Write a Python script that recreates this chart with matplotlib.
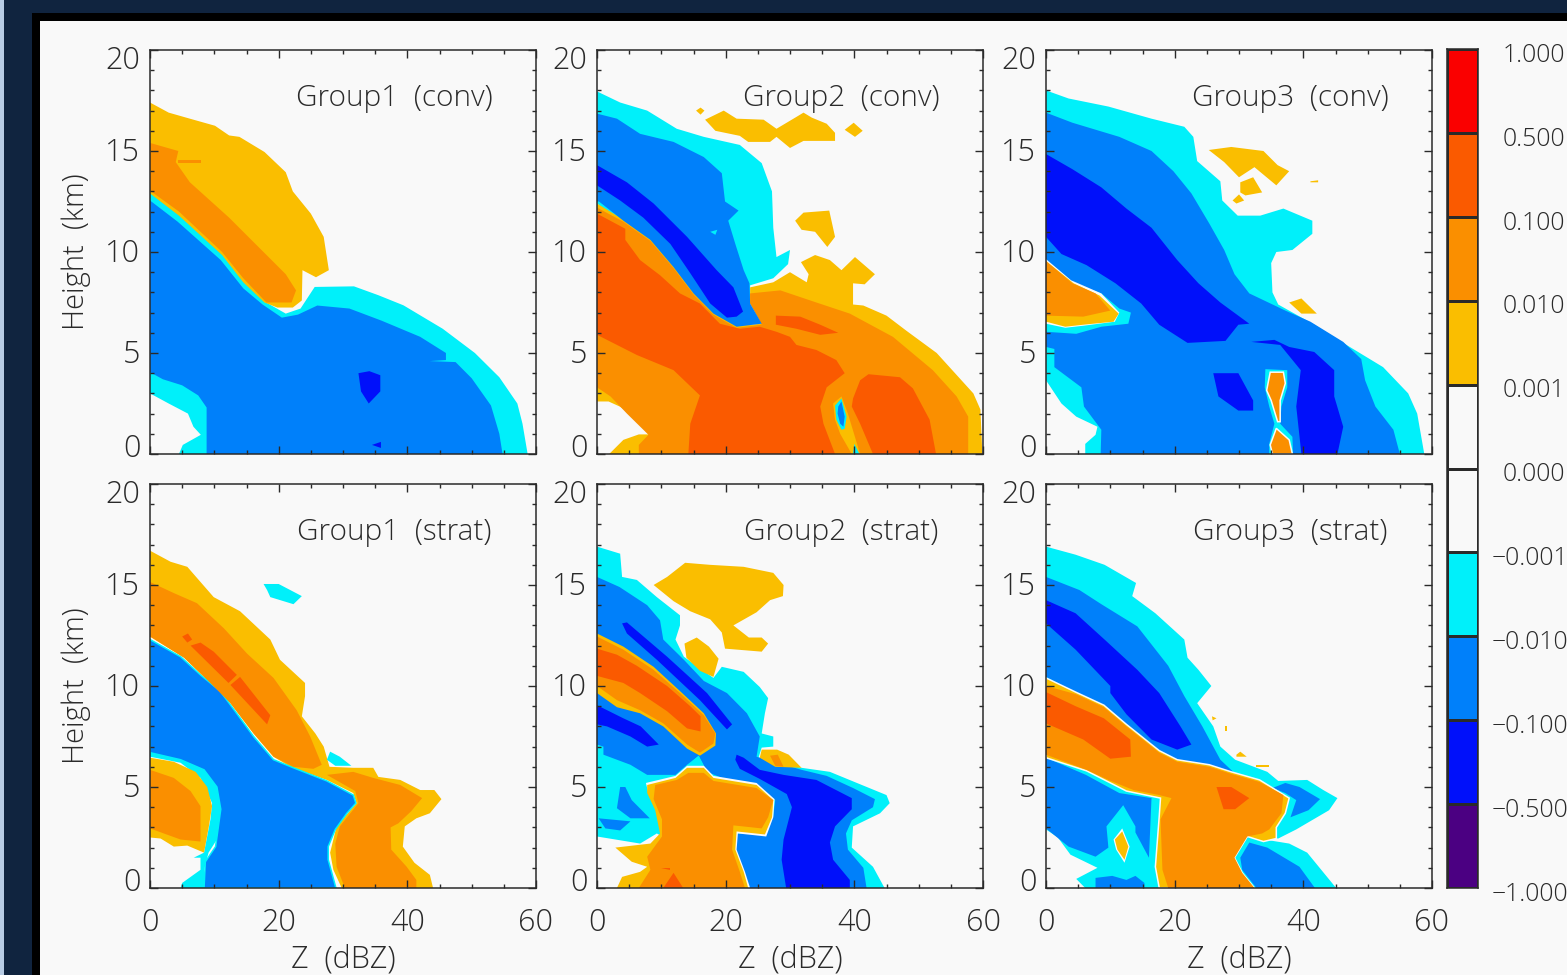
import matplotlib
matplotlib.use("Agg")
import matplotlib.pyplot as plt
from matplotlib.colors import ListedColormap, BoundaryNorm
from matplotlib.patches import Rectangle
from matplotlib.ticker import MultipleLocator
import numpy as np

W, H = 1567, 975
plt.rcParams['font.family'] = ['Open Sans', 'Liberation Sans', 'DejaVu Sans']
plt.rcParams['font.weight'] = 'light'

PURPLE = '#4b0082'
DARK = '#0010fa'
BLUE = '#0080fa'
CYAN = '#00f0fa'
PAPER = '#f9f9f9'
YELLOW = '#fabe00'
ORANGE = '#fa8f00'
RED_OR = '#fa5a00'
RED = '#fa0000'

# contour regions, (Z dBZ, height km), painted in order

# Group1 conv
G1C_CYAN = [(0,12.95),(4.5,11.85),(11.2,9.9),(14.5,8.55),(17.8,7.55),(21.1,6.95),(23.4,7.2),(25.6,8.27),(31.7,8.3),(35.5,7.86),(39.4,7.36),(45.5,6.2),(50.5,5),(54.3,3.8),(57.1,2.5),(57.9,1.5),(58.7,0),(4.5,0),(5.1,.45),(7.9,.95),(6.75,1.35),(5.9,2),(2.9,2.5),(0,3)]
G1C_BLUE = [(0,12.55),(4.3,11.5),(11,9.6),(14.5,8.2),(17.5,7.4),(20.5,6.75),(23,6.9),(26,7.35),(31,7.2),(36,6.6),(42,5.8),(46,5),(46,4.65),(43.5,4.6),(47.5,4.55),(50,3.75),(53,2.4),(54.3,1),(54.8,0),(8.8,0),(8.8,2.3),(7.5,2.9),(5,3.4),(2,3.7),(0,4.05)]
G1C_DARK = [(32.4,4),(34.1,4.1),(35.8,3.9),(35.8,3.1),(34,2.5),(32.8,3.1)]
G1C_DARK2 = [(34.5,.45),(35.9,.6),(35.9,.3)]
G1C_YELLOW = [(0,17.4),(2.9,16.9),(6.2,16.6),(10.1,16.25),(12.3,15.77),(13.9,15.7),(17.8,14.95),(21.1,13.95),(22.2,13),(25,11.9),(27,10.75),(27.8,9.1),(25.8,8.75),(23.7,9.1),(23.6,7.6),(22.2,7.25),(19.8,7.25),(17.8,7.5),(14.5,8.5),(11.2,9.85),(4.5,11.8),(0,12.9)]
G1C_ORANGE = [(0,15.4),(4.4,15),(4,14.45),(6.2,13.45),(12.3,11.7),(21.1,8.9),(22.7,8.1),(22,7.5),(18.1,7.5),(14.5,8.7),(11.2,10),(4.5,12),(.6,12.9),(0,13)]
G1C_ORANGE2 = [(4.3,14.55),(7.9,14.55),(7.9,14.42),(4.3,14.42)]

# Group2 conv
G2C_CYAN = [(0,17.95),(3.6,17.4),(7.8,17),(12.4,16.1),(16.6,15.7),(22.2,15.3),(25.6,14.4),(27.2,13),(27.4,11.2),(27.9,9.75),(30,10.1),(29.7,9.4),(27.4,8.7),(23.8,8.35),(23.8,6.5),(0,12.4)]
G2C_YELLOW = [(23.8,8.25),(27.4,8.5),(30,9),(32.6,8.5),(32.9,8.9),(31.7,9.5),(33.9,9.85),(36.2,9.6),(38,9.1),(40.1,9.75),(43.2,8.9),(41.6,8.4),(39.8,8.45),(39.8,7.4),(41.4,7.35),(45,6.85),(48.1,6.1),(52.8,5),(58.5,3),(59.6,2.2),(59.9,0),(1.9,0),(4.1,.7),(6.5,.97),(8,.97),(6.7,1.68),(3.6,2.34),(1.8,2.6),(0,2.6),(0,12.4),(4.1,11.6),(8.3,10.65),(11.9,9.3),(15,8),(18.1,7),(21.7,6.35),(25.6,6.45),(23.8,7.45)]
G2C_YEL_A = [(15.4,17),(16.1,17.15),(16.7,17),(16.1,16.8)]
G2C_YEL_B = [(16.8,16.55),(19.7,17),(21.7,16.6),(25.9,16.55),(27.9,16.1),(30.8,16.65),(32.1,16.9),(33.4,16.65),(35.7,16.35),(37,15.9),(37,15.5),(32.1,15.5),(30,15.15),(27.9,15.7),(26.9,15.45),(23.5,15.45),(22.2,15.75),(18.4,16)]
G2C_YEL_C = [(38.5,16.05),(39.9,16.4),(41.3,16),(40.1,15.7)]
G2C_YEL_D = [(30.8,11.55),(32.1,11.95),(36.1,12.05),(37,10.75),(35.8,10.25),(33.9,11),(31.8,11.1)]
G2C_ORANGE = [(23.8,7.95),(28.5,8.1),(34.1,7.5),(39.3,6.95),(46,5.8),(52.2,4.15),(55.9,2.85),(57.7,1.85),(57.7,0),(6.5,0),(6.5,.45),(8,.95),(4.65,2),(2.1,2.85),(0,3.3),(0,12.2),(4.1,11.5),(8.3,10.55),(11.9,9.2),(15,7.9),(18.1,6.9),(21.7,6.25),(25.6,6.4),(23.8,7.45)]
G2C_RED = [(0,11.9),(4.4,11.15),(4.4,10.6),(6.7,9.6),(9.8,8.85),(12.9,7.95),(16,7.45),(19.1,6.45),(22.2,6.2),(25.3,6.3),(27.9,6.05),(30,5.8),(31,5.4),(34.1,5.15),(37.2,4.65),(38.5,4),(35.7,3.3),(34.7,2.35),(35.2,1.5),(37,0),(14.2,0),(14.5,1.5),(16,2.9),(11.9,4.15),(6.2,4.9),(0,5.9)]
G2C_RED2 = [(39.8,2.75),(40.9,3.65),(42.2,3.95),(47.1,3.8),(49.1,3.25),(51.7,1.7),(52.7,0),(42.9,0),(40.9,1.5),(39.6,2.35)]
G2C_RED3 = [(27.8,6.85),(31.6,6.8),(34.7,6.4),(37.5,6),(34.7,5.9),(31,6.2),(27.8,6.4)]
G2C_YEL_E = [(36.7,2.5),(38,2.85),(39,2),(40.9,0),(39.6,0),(37.8,1),(37,1.7)]
G2C_CY_SPOT = [(37,2.4),(38,2.75),(38.8,1.85),(38.5,1.25),(38,1.2),(37.2,1.7)]
G2C_BL_SPOT = [(37.5,2.35),(38,2.6),(38.5,1.85),(38.3,1.35),(37.8,1.5),(37.4,2)]
G2C_CY_FOOT = [(39.8,0),(40,.5),(40.8,0)]
G2C_BLUE = [(0,16.85),(3.1,16.6),(6.7,15.85),(11.9,15.45),(16.6,14.7),(19.4,13.9),(19.9,12.5),(22,12.05),(20.4,11.55),(21.5,10.4),(22.8,9.1),(23.7,8.45),(23.8,7.45),(25.6,6.45),(21.7,6.3),(18.1,6.95),(15,7.95),(11.9,9.25),(8.3,10.6),(4.1,11.55),(.3,12.5),(0,12.5)]
G2C_CY_NICK = [(17.6,11),(18.7,11.1),(18.4,10.85)]
G2C_DARK = [(0,14.3),(4.65,13.45),(8.8,12.4),(14,10.75),(18.6,9.1),(21.2,8.25),(22.7,7.05),(21.7,6.8),(20.2,6.75),(17.6,7.45),(14.5,8.95),(11.4,10.4),(7.2,11.7),(3.6,12.55),(0,13.3)]

# Group3 conv
G3C_CYAN = [(0,18),(3.5,17.6),(9.7,17.2),(16.4,16.6),(21.5,16.2),(22.9,15.7),(23.5,14.5),(27.1,13.5),(27.4,12.55),(29.8,11.8),(33.3,11.8),(36.9,12.15),(41.4,11.55),(41.4,10.9),(38.3,10.1),(35.8,10),(35,9.45),(35.2,8),(36.1,7.4),(41.7,6.4),(46.7,5.4),(52.4,4.3),(56.3,3),(57.7,2),(58.8,0),(6.1,0),(6.1,.5),(7.7,.95),(8,1.35),(4.7,1.85),(2.4,2.5),(0,3.65)]
G3C_BLUE = [(0,16.9),(4.1,16.4),(11.4,15.7),(16.4,15),(19.8,14),(22.6,12.9),(25.4,11.4),(27.7,10.1),(29.3,8.9),(31.6,7.95),(37.2,7.1),(41.1,6.55),(46.2,5.55),(49,4.7),(49.6,3.65),(51.2,2.35),(54,1.2),(55,0),(8.5,0),(8.6,1.2),(5.9,2.35),(5.5,3.3),(1.3,4.3),(1.3,5.2),(0,5.3)]
G3C_DARK = [(0,14.85),(4.1,14.1),(8.6,13.2),(12.5,12.15),(16.4,11.2),(20.4,9.6),(23.7,8.45),(27.1,7.5),(31.6,6.45),(29.9,6.4),(27.9,5.6),(22,5.5),(17.6,6.4),(14.8,7.45),(10.8,8.45),(6.3,9.35),(2.4,9.9),(0,10.75)]
G3C_DARK2 = [(31.9,5.55),(35.5,5.65),(37.8,5.3),(41.7,5.05),(44.8,4.15),(44.8,2.85),(46.2,1.35),(45.3,0),(39.7,0),(38.9,2.35),(39.6,4.15),(36.4,5.4)]
G3C_DARK3 = [(26,4),(29.9,4),(32.2,2.65),(32.2,2.15),(29.9,2.15),(26.8,2.85)]
G3C_CY_B = [(0,9.6),(3.9,8.5),(8.6,7.95),(11.4,7.2),(13.2,7),(12.8,6.45),(8.6,6.3),(4.7,5.95),(0,6.05)]
G3C_WH_B = [(0,9.65),(3.9,8.6),(8.6,7.95),(11.4,7),(10.7,6.55),(5.8,6.35),(3,6.25),(0,6.45)]
G3C_YEL_B = [(0,9.55),(4.3,8.45),(8.3,7.85),(11.3,6.95),(10.5,6.55),(5.8,6.4),(3,6.3),(0,6.55)]
G3C_OR_B = [(0,9.55),(4.1,8.45),(7.7,7.95),(10,7.1),(5.8,6.8),(0,6.85)]
G3C_CY_S = [(34.1,4.2),(37.5,4.15),(37.5,3.3),(36.6,2.35),(36.4,1.5),(38.3,.85),(38.4,0),(34.7,0),(34.7,.5),(35.5,1.5),(34.7,2.35),(34,3.3)]
G3C_OR_S = [(34.85,4.05),(36.9,4.05),(37.2,3.5),(36.4,2.65),(36.4,1.6),(36,1.6),(35,2.65),(34.3,3.15)]
G3C_OR_S2 = [(35.8,1.27),(37.8,.7),(38.3,0),(35.2,0),(34.85,.45)]
G3C_YEL_A = [(25.3,15.05),(28.8,15.2),(33.8,15),(36,14.3),(37.8,14),(35.8,13.3),(32.4,14.2),(30,13.7),(27.7,14.45)]
G3C_YEL_C = [(30.2,13.45),(32.2,13.7),(33.6,12.95),(31,12.8),(30.2,12.95)]
G3C_YEL_D = [(29,12.55),(30,12.85),(30.8,12.55),(29.6,12.4)]
G3C_YEL_E = [(41.1,13.5),(42.3,13.55),(42.3,13.45),(41.1,13.45)]
G3C_YEL_F = [(37.8,7.5),(39.7,7.7),(42.1,6.95),(39.7,6.95)]

# Group1 strat
G1S_YELLOW = [(0,16.7),(3.2,16.15),(5.8,15.9),(7.3,15.35),(9.9,14.4),(14,13.7),(18.7,12.3),(20.2,11.3),(24.1,10.15),(24.1,9.5),(23.6,8.5),(25.7,7.65),(27,7),(27.9,6),(31.6,5.95),(34.7,5.95),(35.5,5.5),(38.9,5.35),(42,4.85),(44.2,4.85),(45.3,4.4),(43.5,3.7),(41.4,3.45),(39.6,3.05),(39.3,2.05),(41.1,1.25),(43.5,.65),(44,0),(29.8,0),(28.5,.9),(28,1.75),(29,3.05),(32.1,4.2),(31.6,4.7),(27.5,5.35),(21.8,6),(19.2,6.5),(16.1,7.65),(12.5,9.15),(8.9,10.3),(5.3,11.4),(0,12.45)]
G1S_CYAN = [(0,7),(4.75,6.7),(8.4,6.2),(10.2,5.45),(11.5,4.1),(10.4,2.4),(9.1,1.75),(8.4,.9),(8.4,0),(4.75,0),(5,.25),(7.85,.9),(7.85,1.5),(6.8,1.5),(8.4,1.75),(9.4,3.4),(9.65,4.2),(7.85,5.45),(4.75,6.2),(0,6.5)]
G1S_BLUE = [(0,12.3),(4.75,11.45),(7.85,10.55),(10.9,9.75),(13,8.85),(16.1,7.5),(19.2,6.35),(22.3,5.95),(27.5,5.3),(31.6,4.6),(32,4.2),(30.6,3.7),(28.8,2.9),(27.7,2.05),(27.7,1.4),(28.9,0),(8.4,0),(8.6,1.3),(10.2,2.05),(11,3.9),(10.4,5),(8.4,5.85),(4.75,6.35),(0,6.7)]
G1S_YEL_B = [(0,6.45),(3.7,6.25),(7.1,5.75),(8.9,5),(9.65,4.05),(9.15,3.05),(8.4,1.75),(5.8,2.1),(3.7,2.05),(1.65,2.45),(0,2.5)]
G1S_OR_B = [(0,5.85),(3.7,5.45),(6.3,4.8),(7.85,4.05),(7.85,2.3),(4.75,2.4),(2.15,2.7),(0,2.95)]
G1S_ORANGE = [(0,15.15),(3.7,14.6),(7.3,14.1),(11.5,12.85),(15.1,11.6),(19.2,10.4),(22.8,8.8),(24.9,7.5),(26.7,6.1),(25.4,5.9),(22.3,6),(19.2,6.5),(16.1,7.65),(12.5,9.15),(8.9,10.3),(5.3,11.4),(0,12.45)]
G1S_ORANGE2 = [(27.5,5.6),(31.6,5.75),(34.7,5.45),(38.9,5.1),(42.3,4.45),(40.6,3.8),(38.6,3.2),(37.4,3),(37.5,1.9),(39.9,1.05),(41.4,.4),(41.4,0),(30.3,0),(29,1.05),(28.8,2.2),(29.5,3.05),(32.4,4.2),(31.9,4.8)]
G1S_RED_A = [(5,12.45),(5.9,12.6),(6.55,12.3),(5.8,12.15)]
G1S_RED_B = [(6.3,12),(7.85,12.15),(9.9,11.7),(13.5,10.55),(12.2,10.15)]
G1S_RED_C = [(12.5,10.05),(14,10.45),(18.7,8.55),(18.2,8.1)]
G1S_CY_A = [(17.65,15.05),(20,15.05),(23.6,14.45),(22.3,14.05),(18.7,14.4),(18.2,14.75)]
G1S_CY_B = [(27.5,6.35),(28,6.75),(29.5,6.5),(31.3,6.05),(28.8,6.05)]

# Group2 strat
G2S_CYAN = [(0,16.9),(3.6,16.55),(3.9,15.4),(6.2,15.25),(9.3,14.4),(12.9,13.5),(12.9,13),(12.2,12.3),(13.5,11.45),(18.1,10.4),(19.4,10.95),(22.8,10.7),(25.3,9.95),(26.6,9.4),(26.1,8.65),(25.6,7.65),(27.4,7.5),(27.4,7),(25.6,6.95),(25.1,6.45),(31.8,5.95),(36.2,5.75),(40.4,5.2),(45,4.6),(45.5,4.2),(44,3.7),(39.8,3.05),(39.6,2),(42.9,1.05),(44.7,0),(23.8,0),(16,1.5),(9.3,2.7),(6.7,2.2),(0,2.55)]
G2S_BLUE = [(0,15.4),(3.5,14.9),(7.8,14),(9.8,13.25),(10.3,12.3),(13.5,11.3),(16.6,10.25),(20.2,9.65),(23.3,8.65),(25.3,7.5),(24.8,6.5),(31.8,5.85),(35.7,5.55),(39.8,4.95),(43.2,4.4),(42.9,4),(39.6,3.35),(38.7,2.7),(39,1.9),(41.4,1),(41.9,0),(23.5,0),(22.2,1.25),(21.5,2.05),(21.7,2.7),(26.3,2.65),(27.4,3.55),(27.7,4.35),(25.3,5),(20.2,5.35),(17.1,5.75),(15.8,6.55),(14,6.1),(12.2,5.6),(7.8,5.6),(5.2,6.1),(1,6.6),(1,7),(0,7.1)]
G2S_CY_NICK = [(14,6),(15.8,6.55),(16.8,5.95)]
G2S_DARK_A = [(3.9,13.1),(4.65,13.15),(10.9,11.45),(17.1,9.65),(21,8.1),(20.2,7.85),(16,9.3),(9.3,11.3),(4.65,12.6)]
G2S_DARK_B = [(0,9.05),(4.1,8.4),(6.8,8),(9.6,7.1),(7.8,7),(5.2,7.5),(1.55,8),(0,8.1)]
G2S_DARK_C = [(21.7,6.6),(22.8,6.45),(25.3,5.85),(29,5.6),(34.1,5.35),(39.6,4.45),(39.6,3.9),(37,3.05),(36.2,2.25),(36.7,1.4),(39.3,.4),(39.3,0),(29.4,0),(28.7,1.4),(29,2.4),(30.3,4),(29.5,4.65),(25.3,5.4),(22.2,5.9),(21.5,6.35)]
G2S_YELLOW = [(0,12.6),(4.1,11.95),(8.8,10.95),(12.9,9.75),(16.6,8.65),(18.5,7.65),(18.4,7.05),(16,6.55),(14,6.9),(10.3,8),(6.7,8.65),(3.1,8.95),(0,9.65)]
G2S_ORANGE = [(0,12.45),(4.1,11.8),(8.8,10.8),(12.9,9.65),(16.6,8.55),(18.4,7.65),(18.1,7.15),(16,6.7),(14,7.1),(10.3,8.15),(6.7,8.8),(3.1,9.3),(0,10)]
G2S_RED = [(0,11.85),(3.1,11.55),(6.2,11),(10.9,10),(14.5,9),(16.1,8.5),(16.1,7.75),(14,7.9),(10.9,8.75),(6.7,9.65),(4.1,10.15),(0,10.5)]
G2S_YEL_TOP = [(8.8,15),(10.9,15.4),(13.7,16.1),(17.5,16),(22.8,15.9),(27.4,15.6),(29,15),(28.9,14.45),(26.9,14.25),(24.8,13.65),(21.2,13),(23.6,12.4),(25.6,12.4),(26.6,12.1),(25.6,11.7),(19.9,11.85),(19.4,12.65),(17.6,13.3),(14.5,13.7),(11.9,14.2)]
G2S_YEL_MID = [(13.6,12.1),(15.5,12.4),(17.4,11.95),(18.9,11.35),(18.1,10.45),(16,10.75),(13.9,11.4)]
G2S_YEL_R = [(25.6,6.85),(28,6.85),(29.8,6.6),(31.8,5.95),(27.7,6),(25.3,6.45)]
G2S_OR_R = [(26.9,6.55),(28.1,6.6),(29,6),(27.7,6.05)]
G2S_WH_LOW = [(7.6,5.2),(12.2,5.55),(14,6.05),(16.6,6.05),(18.1,5.55),(24.8,5.2),(27.6,4.4),(27.4,3.5),(26.3,2.55),(21.9,2.7),(21.7,1.9),(23,.8),(23.8,0),(3,0),(3.8,.55),(6.7,.7),(7.6,1.05),(5.4,1.2),(2.7,2),(8.3,2.1),(10,2.7),(9.2,3.85),(8,4.7)]
G2S_YEL_LOW = [(7.8,5.1),(12.2,5.45),(14,5.95),(16.6,5.95),(18.1,5.45),(24.8,5.1),(27.4,4.35),(27.2,3.5),(26.1,2.65),(21.7,2.8),(21.5,1.9),(22.8,.8),(23.5,0),(3.1,0),(3.9,.55),(6.7,.8),(7.8,1.05),(5.4,1.3),(2.85,2),(8.3,2.2),(9.8,2.7),(9.05,3.85),(7.8,4.7)]
G2S_OR_LOW = [(9.05,5.1),(12.4,5.35),(14.2,5.7),(16.6,5.7),(18.1,5.3),(24.8,4.95),(27.4,4.35),(26.6,3.5),(25.6,2.95),(21.2,3.1),(21,1.9),(22.2,.8),(23,0),(6.5,0),(8.3,.9),(7.8,1.55),(10.1,2.55),(10.1,3.4),(8.8,4.4)]
G2S_RED_LOW = [(10.3,0),(11.9,.75),(13.4,0)]
G2S_RED_DOT = [(10,1),(11.4,1),(11.4,.9)]
G2S_BL_A = [(3.6,5),(4.4,5),(5.4,4.35),(8.2,3.45),(5.2,3.45),(3.1,3.95)]
G2S_BL_B = [(.25,3.45),(5.2,3.3),(3.6,2.85),(1.3,2.95)]

# Group3 strat
G3S_CYAN = [(0,16.9),(4.6,16.5),(9.1,16),(14,15.1),(13.4,14.45),(17,13.6),(21.5,12.3),(22,11.4),(23.7,10.8),(25.7,10),(23.5,9.15),(26,8),(27.1,7),(29.4,6.35),(34.4,5.75),(36.1,5.3),(40.6,5.35),(43.1,4.85),(45.3,4.45),(44,3.85),(38.9,2.9),(36.1,2.45),(31,2.55),(37.8,2.2),(40.6,1.75),(45.1,0),(6.1,0),(4.7,.45),(8,1),(3.8,1.65),(1.85,2.5),(0,2.9)]
G3S_BLUE = [(0,15.4),(5.2,14.75),(8.6,14.05),(14.2,12.95),(19,11),(21.5,9.5),(24.3,8),(27.1,6.35),(29.6,5.6),(20.9,6.2),(17.6,6.7),(12.5,8),(8.6,9),(0,10.45)]
G3S_DARK = [(0,14.25),(4.6,13.6),(9.1,12.3),(14.2,10.8),(17.6,9.65),(20.9,8),(22.6,7.1),(20.4,6.85),(16.4,7.35),(12.5,8.6),(10,9.65),(10,10),(4.6,11.8),(0,13.1)]
G3S_YELLOW = [(0,10.4),(4.6,9.7),(9,9.05),(12.5,8.1),(17.6,6.8),(20.4,6.35),(25.4,6.1),(28.8,5.75),(33.2,5.35),(37.8,4.45),(37.2,3.7),(35.8,3),(35.8,2.45),(33.8,2.3),(31.3,2.55),(29.3,1.5),(30.5,.75),(32.4,0),(17.6,0),(17,1.05),(17.6,3.55),(17.8,4.45),(12.5,4.8),(6.3,5.8),(0,6.45)]
G3S_ORANGE = [(0,10),(4.6,9.6),(9,8.95),(12.5,8),(17.6,6.7),(20.4,6.25),(25.4,6),(28.8,5.65),(33.2,5.25),(36.9,4.6),(36.6,3.7),(34.7,2.9),(33.6,2.7),(31.3,2.55),(29.3,1.5),(30.5,.75),(32.4,0),(19,0),(18.1,.9),(17.8,3.4),(19.5,4.45),(17.6,4.6),(13.6,4.85),(9.7,5.35),(6.3,5.85),(0,6.6)]
G3S_RED = [(0,9.7),(4.6,9),(9,8.4),(13.1,7.35),(13.2,6.5),(10,6.4),(5.8,7.35),(0,8.15)]
G3S_RED2 = [(26.5,5),(28.8,5),(31.6,4.45),(29.4,3.9),(27.6,3.9)]
G3S_BL_LOW = [(0,6.45),(6.2,5.6),(11.4,4.7),(16.4,4.45),(16,1.5),(13.9,2.75),(13.9,3.05),(12,4.1),(9.4,3.05),(9.7,2),(7.7,1.55),(3.5,2.05),(0,2.95)]
G3S_WH_SPOT = [(10.5,2.4),(11.85,2.95),(13,2.05),(12.2,1.25),(10.9,1.9)]
G3S_YEL_SPOT = [(10.7,2.4),(11.85,2.8),(12.8,2.05),(12.2,1.4),(11.1,1.9)]
G3S_BL_FOOT = [(7.7,0),(7.7,.5),(10.3,.6),(12.5,.4),(13.9,.6),(15.3,.25),(15.3,0)]
G3S_BL_RLOW = [(30.2,1.5),(31.6,2.25),(34.4,2),(39.4,1.05),(41.8,0),(32.7,0),(30.5,.9)]
G3S_BL_RUP = [(35.2,4.95),(37.2,5.2),(39.4,5),(42.6,4.4),(40.8,3.85),(38,3.5),(38.9,4.35),(37.2,4.7)]
G3S_SPECK1 = [(25.8,8.5),(26.5,8.4),(25.9,8.3)]
G3S_SPECK2 = [(27.8,8),(28.1,8),(28.1,7.75),(27.8,7.75)]
G3S_SPECK3 = [(29.6,6.6),(30.2,6.75),(31.2,6.5),(29.6,6.5)]
G3S_SPECK4 = [(32.7,6.07),(34.7,6.07),(34.7,5.99),(32.7,5.99)]

# a third item is the colour of the thin fringe round the region
PANELS = [
    ('Group1  (conv)', [(CYAN, G1C_CYAN), (BLUE, G1C_BLUE), (DARK, G1C_DARK), (DARK, G1C_DARK2),
                        (YELLOW, G1C_YELLOW), (ORANGE, G1C_ORANGE), (ORANGE, G1C_ORANGE2)]),
    ('Group2  (conv)', [(CYAN, G2C_CYAN), (YELLOW, G2C_YELLOW), (YELLOW, G2C_YEL_A), (YELLOW, G2C_YEL_B),
                        (YELLOW, G2C_YEL_C), (YELLOW, G2C_YEL_D), (ORANGE, G2C_ORANGE), (RED_OR, G2C_RED),
                        (RED_OR, G2C_RED2), (RED_OR, G2C_RED3), (YELLOW, G2C_YEL_E), (CYAN, G2C_CY_SPOT),
                        (BLUE, G2C_BL_SPOT), (CYAN, G2C_CY_FOOT), (BLUE, G2C_BLUE), (CYAN, G2C_CY_NICK),
                        (DARK, G2C_DARK)]),
    ('Group3  (conv)', [(CYAN, G3C_CYAN), (BLUE, G3C_BLUE), (DARK, G3C_DARK), (DARK, G3C_DARK2),
                        (DARK, G3C_DARK3), (CYAN, G3C_CY_B), (PAPER, G3C_WH_B), (YELLOW, G3C_YEL_B),
                        (ORANGE, G3C_OR_B), (CYAN, G3C_CY_S), (ORANGE, G3C_OR_S, PAPER),
                        (ORANGE, G3C_OR_S2, PAPER), (YELLOW, G3C_YEL_A), (YELLOW, G3C_YEL_C), (YELLOW, G3C_YEL_D),
                        (YELLOW, G3C_YEL_E), (YELLOW, G3C_YEL_F)]),
    ('Group1  (strat)', [(YELLOW, G1S_YELLOW), (CYAN, G1S_CYAN), (BLUE, G1S_BLUE, CYAN), (YELLOW, G1S_YEL_B),
                         (ORANGE, G1S_OR_B), (ORANGE, G1S_ORANGE), (ORANGE, G1S_ORANGE2), (RED_OR, G1S_RED_A),
                         (RED_OR, G1S_RED_B), (RED_OR, G1S_RED_C), (CYAN, G1S_CY_A), (CYAN, G1S_CY_B)]),
    ('Group2  (strat)', [(CYAN, G2S_CYAN), (BLUE, G2S_BLUE), (CYAN, G2S_CY_NICK), (DARK, G2S_DARK_A),
                         (DARK, G2S_DARK_B), (DARK, G2S_DARK_C), (YELLOW, G2S_YELLOW), (ORANGE, G2S_ORANGE),
                         (RED_OR, G2S_RED), (YELLOW, G2S_YEL_TOP), (YELLOW, G2S_YEL_MID), (YELLOW, G2S_YEL_R),
                         (ORANGE, G2S_OR_R), (PAPER, G2S_WH_LOW), (YELLOW, G2S_YEL_LOW), (ORANGE, G2S_OR_LOW),
                         (RED_OR, G2S_RED_LOW), (RED_OR, G2S_RED_DOT), (BLUE, G2S_BL_A), (BLUE, G2S_BL_B)]),
    ('Group3  (strat)', [(CYAN, G3S_CYAN), (BLUE, G3S_BLUE), (DARK, G3S_DARK), (BLUE, G3S_BL_LOW),
                         (PAPER, G3S_WH_SPOT), (YELLOW, G3S_YEL_SPOT), (BLUE, G3S_BL_FOOT), (BLUE, G3S_BL_RLOW),
                         (BLUE, G3S_BL_RUP), (YELLOW, G3S_YELLOW, PAPER), (ORANGE, G3S_ORANGE), (RED_OR, G3S_RED),
                         (RED_OR, G3S_RED2), (YELLOW, G3S_SPECK1), (YELLOW, G3S_SPECK2), (YELLOW, G3S_SPECK3),
                         (YELLOW, G3S_SPECK4)]),
]

CBAR_COLORS = [PURPLE, DARK, BLUE, CYAN, PAPER, PAPER, YELLOW, ORANGE, RED_OR, RED]
CBAR_LABELS = ['\u22121.000', '\u22120.500', '\u22120.100', '\u22120.010', '\u22120.001', '0.000',
               '0.001', '0.010', '0.100', '0.500', '1.000']

X_TICKS = [0, 20, 40, 60]
Y_TICKS = [0, 5, 10, 15, 20]
INK = '#2a2a2a'


def px_axes(fig, left, top, right, bottom):
    return fig.add_axes([left / W, 1 - bottom / H, (right - left) / W, (bottom - top) / H])


fig = plt.figure(figsize=(W / 100, H / 100), dpi=100, facecolor='#10243f')

# page frame around the plot
fig.add_artist(Rectangle((0, 0), 4 / W, 1, transform=fig.transFigure, color='#b8cce4', lw=0, zorder=-3))
fig.add_artist(Rectangle((32 / W, 0), 1, 1 - 13 / H, transform=fig.transFigure, color='black', lw=0, zorder=-2))
fig.add_artist(Rectangle((40 / W, 0), 1, 1 - 21 / H, transform=fig.transFigure, color=PAPER, lw=0, zorder=-1))

lefts = [150, 597, 1046]
tops = [50, 484]
for i, (title, layers) in enumerate(PANELS):
    col = i % 3
    row = i // 3
    ax = px_axes(fig, lefts[col], tops[row], lefts[col] + 386, tops[row] + 404)
    ax.set_facecolor(PAPER)
    for layer in layers:
        z, h = zip(*layer[1])
        if len(layer) > 2:
            ax.fill(z, h, facecolor=layer[0], edgecolor=layer[2], lw=1.1)
        else:
            ax.fill(z, h, color=layer[0], lw=0)
    ax.set_xlim(0, 60)
    ax.set_ylim(0, 20)
    ax.set_xticks(X_TICKS)
    ax.set_yticks(Y_TICKS)
    ax.xaxis.set_minor_locator(MultipleLocator(5))
    ax.yaxis.set_minor_locator(MultipleLocator(1))
    ax.tick_params(which='major', direction='in', length=6, width=1, top=True, right=True,
                   color=INK, labelcolor=INK, labelsize=22)
    ax.tick_params(which='minor', direction='in', length=3, width=1, top=True, right=True, color=INK)
    ax.tick_params(axis='y', labelleft=False)
    ax.tick_params(axis='x', pad=14)
    # end labels of the height axis sit inside the axis range
    for t in Y_TICKS:
        dy = 3.6 if t == 0 else (-8 if t == 20 else -1.5)
        ax.annotate(str(t), (0, t), xycoords=ax.get_yaxis_transform(), xytext=(-7, dy),
                    textcoords='offset points', fontsize=22, color=INK, ha='right', va='center',
                    annotation_clip=False)
    for s in ax.spines.values():
        s.set_linewidth(1.1)
        s.set_color(INK)
    if row == 0:
        ax.set_xticklabels([])
    else:
        ax.set_xlabel('Z  (dBZ)', fontsize=22, fontweight='light', color=INK, labelpad=3)
    if col == 0:
        ax.set_ylabel('Height  (km)', fontsize=21, fontweight='light', color=INK, labelpad=39)
    ax.text(0.632, 0.880, title, transform=ax.transAxes, fontsize=21.4,
            color=INK, ha='center', va='center')

# colour bar
cax = px_axes(fig, 1447, 49, 1478, 888)
edges = np.arange(len(CBAR_LABELS))
cmap = ListedColormap(CBAR_COLORS)
norm = BoundaryNorm(edges, cmap.N)
cax.pcolormesh([0, 1], edges, edges[:-1].reshape(-1, 1), cmap=cmap, norm=norm, edgecolors=INK, linewidth=0.9)
cax.set_xticks([])
cax.set_yticks([])
for s in cax.spines.values():
    s.set_linewidth(1.1)
    s.set_color(INK)
for k, lab in enumerate(CBAR_LABELS):
    dx = 9.5 if lab.startswith('\u2212') else 18
    cax.annotate(lab, (1, edges[k]), xycoords=cax.get_yaxis_transform(), xytext=(dx, -4.5),
                 textcoords='offset points', fontsize=17.8, color=INK, va='center', ha='left',
                 annotation_clip=False)

fig.savefig('out.png', dpi=100, facecolor=fig.get_facecolor())
